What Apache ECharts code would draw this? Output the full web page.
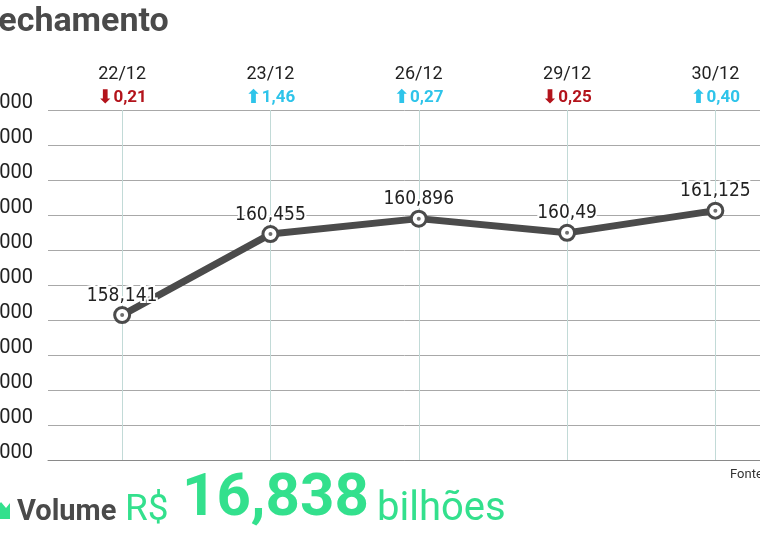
<!DOCTYPE html>
<html><head><meta charset="utf-8">
<script src="https://cdn.jsdelivr.net/npm/echarts@6/dist/echarts.min.js"></script>
<style>html,body{margin:0;padding:0;background:#fff}#c{width:760px;height:541px}</style>
</head><body><div id="c"></div>
<script>
const categories = ['22/12', '23/12', '26/12', '29/12', '30/12'];
const closing = [158.141, 160.455, 160.896, 160.49, 161.125];
const changes = [-0.21, 1.46, 0.27, -0.25, 0.40];
const yMin = 154, yMax = 164, yStep = 1;
const volumeText = '16,838';

const fmt = v => String(v).replace('.', ',');
const chart = echarts.init(document.getElementById('c'));
chart.setOption({
  animation: false,
  backgroundColor: '#fff',
  title: {
    text: 'Fechamento', left: -25, top: 0,
    textStyle: { fontFamily: 'Roboto', fontWeight: 'bold', fontSize: 34, color: '#4a4a4a' }
  },
  grid: { left: 48, right: -29.5, top: 110, bottom: 81, containLabel: false, outerBoundsMode: 'none' },
  xAxis: [{
    type: 'category', data: categories, position: 'top', boundaryGap: true,
    axisLine: { show: false }, axisTick: { show: false }, splitLine: { show: false },
    axisLabel: {
      margin: 1, interval: 0,
      formatter: (v, i) => {
        const c = changes[i];
        const key = c < 0 ? 'dn' : 'up';
        const arrow = c < 0 ? '⬇' : '⬆';
        return '{d|' + v + '}\n{' + key + 'a|' + arrow + '}{' + key + '|' + fmt(Math.abs(c).toFixed(2)) + '}';
      },
      rich: {
        d: { fontFamily: 'Roboto', fontSize: 18, color: '#222', lineHeight: 25 },
        dn: { fontFamily: 'Roboto', fontWeight: 'bold', fontSize: 17, color: '#b3131b', lineHeight: 22 },
        up: { fontFamily: 'Roboto', fontWeight: 'bold', fontSize: 17, color: '#2ec4ea', lineHeight: 22 },
        dna: { fontFamily: 'DejaVu Sans', fontWeight: 'bold', fontSize: 19, color: '#b3131b', lineHeight: 22 },
        upa: { fontFamily: 'DejaVu Sans', fontWeight: 'bold', fontSize: 19, color: '#2ec4ea', lineHeight: 22 }
      }
    }
  }, {
    type: 'category', data: categories, position: 'bottom',
    axisLine: { show: true, lineStyle: { color: '#8a8a8a', width: 1 } },
    axisTick: { show: false }, axisLabel: { show: false }
  }],
  yAxis: {
    type: 'value', min: yMin, max: yMax, interval: yStep,
    axisLine: { show: false }, axisTick: { show: false },
    splitLine: { lineStyle: { color: '#a8a8a8', width: 1 } },
    axisLabel: {
      margin: 15, verticalAlign: 'bottom', lineHeight: 14,
      formatter: v => v + '.000',
      fontFamily: 'Roboto', fontSize: 20, color: '#222'
    }
  },
  series: [{
    type: 'line', data: closing, z: 3,
    lineStyle: { color: '#4b4b4b', width: 7 },
    itemStyle: { color: '#fff', borderColor: '#4b4b4b', borderWidth: 3 },
    symbol: 'circle', symbolSize: 15, showAllSymbol: true,
    label: {
      show: true, position: 'top', distance: 1,
      formatter: p => fmt(p.value),
      fontFamily: 'DejaVu Sans Condensed, Roboto Condensed, Roboto', fontSize: 19, color: '#222',
      textBorderColor: '#fff', textBorderWidth: 4
    },
    markLine: {
      silent: true, symbol: 'none', z: 1,
      label: { show: false },
      lineStyle: { color: '#c2dad7', width: 1, type: 'solid' },
      data: categories.map(c => ({ xAxis: c }))
    }
  }, {
    type: 'scatter', data: closing, z: 4, symbolSize: 4, silent: true,
    itemStyle: { color: '#4b4b4b' }
  }],
  graphic: [
    { type: 'polygon', left: -2, top: 502, z: 10,
      shape: { points: [[0, 18], [12, 18], [12, 2], [8, 7], [3, 1], [0, 5]] },
      style: { fill: '#33e08d' } },
    { type: 'text', left: 17, top: 498,
      style: { text: 'Volume', font: 'bold 29px Roboto', fill: '#4a4a4a' } },
    { type: 'text', left: 125, top: 492,
      style: { text: 'R$', font: '37px Roboto', fill: '#33e08d' } },
    { type: 'text', left: 182, top: 470,
      style: { text: volumeText, font: 'bold 60px Roboto', fill: '#33e08d' } },
    { type: 'text', left: 377, top: 490,
      style: { text: 'bilhões', font: '40px Roboto', fill: '#33e08d' } },
    { type: 'text', left: 730, top: 468,
      style: { text: 'Fonte: B3', font: '13px Roboto', fill: '#333' } }
  ]
});
</script></body></html>
